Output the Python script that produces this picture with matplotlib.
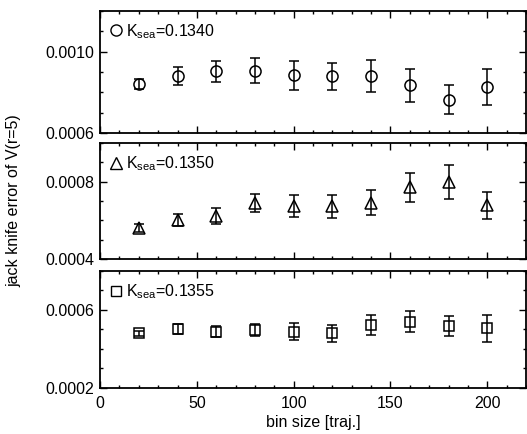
import numpy as np
import matplotlib
matplotlib.use('Agg')
import matplotlib.pyplot as plt
from matplotlib.lines import Line2D
from matplotlib.ticker import MultipleLocator

plt.rcParams['font.family'] = ['Liberation Sans', 'DejaVu Sans']
plt.rcParams['mathtext.fontset'] = 'custom'
plt.rcParams['mathtext.rm'] = 'Liberation Sans'
plt.rcParams['mathtext.it'] = 'Liberation Sans:italic'

# bin sizes
bins = [20, 40, 60, 80, 100, 120, 140, 160, 180, 200]

# K_sea = 0.1340
err_1340 = [0.000842, 0.000881, 0.000904, 0.000907, 0.000883, 0.000878, 0.000880, 0.000834, 0.000764, 0.000826]
dev_1340 = [0.000024, 0.000045, 0.000051, 0.000060, 0.000070, 0.000068, 0.000077, 0.000080, 0.000072, 0.000087]

# K_sea = 0.1350
err_1350 = [0.000560, 0.000603, 0.000623, 0.000690, 0.000675, 0.000672, 0.000692, 0.000770, 0.000796, 0.000677]
dev_1350 = [0.000020, 0.000030, 0.000040, 0.000048, 0.000057, 0.000059, 0.000065, 0.000077, 0.000088, 0.000070]

# K_sea = 0.1355
err_1355 = [0.000480, 0.000503, 0.000489, 0.000497, 0.000489, 0.000480, 0.000523, 0.000540, 0.000518, 0.000506]
dev_1355 = [0.000013, 0.000026, 0.000027, 0.000031, 0.000043, 0.000045, 0.000051, 0.000055, 0.000051, 0.000069]

labels = ['0.1340', '0.1350', '0.1355']
markers = ['o', '^', 's']
ylims = [(0.0006, 0.0012), (0.0004, 0.0010), (0.0002, 0.0008)]
yticks = [[0.0006, 0.0010], [0.0004, 0.0008], [0.0002, 0.0006]]

fig = plt.figure(figsize=(5.27, 4.34), dpi=100)
# axes boxes [left, bottom, width, height]
boxes = [[0.19, 0.6935, 0.808, 0.2815],
         [0.19, 0.4032, 0.808, 0.2673],
         [0.19, 0.1060, 0.808, 0.2696]]

data = [(err_1340, dev_1340), (err_1350, dev_1350), (err_1355, dev_1355)]
msizes = [8, 8, 7]

for i in range(3):
    ax = fig.add_axes(boxes[i])
    y, e = data[i]
    ax.errorbar(bins, y, yerr=e, fmt=markers[i], mfc='none', mec='black',
                ms=msizes[i], mew=1.1, ecolor='black', elinewidth=1.1,
                capsize=3.5, capthick=1.1)
    ax.set_xlim(0, 220)
    ax.set_ylim(*ylims[i])
    ax.set_yticks(yticks[i])
    ax.set_yticklabels(['%.4f' % v for v in yticks[i]])
    ax.yaxis.set_minor_locator(MultipleLocator(0.0001))
    ax.xaxis.set_major_locator(MultipleLocator(50))
    ax.xaxis.set_minor_locator(MultipleLocator(10))
    ax.tick_params(which='both', direction='in', top=True, right=True,
                   labelsize=11.5, width=1.0)
    ax.tick_params(which='major', length=5, pad=4)
    ax.tick_params(which='minor', length=2.5)
    for sp in ax.spines.values():
        sp.set_linewidth(1.3)
    if i < 2:
        ax.tick_params(labelbottom=False)
    else:
        ax.tick_params(axis='x', pad=6)
        ax.set_xlabel('bin size [traj.]', fontsize=11.5, labelpad=3)
    handle = Line2D([], [], marker=markers[i], mfc='none', mec='black',
                    ms=msizes[i], mew=1.0, ls='none')
    ax.legend([handle], [r'K$_{\rm sea}$=' + labels[i]], loc='upper left',
              frameon=False, fontsize=11.5, handlelength=0.6, handletextpad=0.3,
              borderaxespad=0.4, borderpad=0.3)

fig.text(0.026, 0.537, 'jack knife error of V(r=5)', rotation=90,
         va='center', ha='center', fontsize=11.5)

fig.savefig('out.png', dpi=100)
